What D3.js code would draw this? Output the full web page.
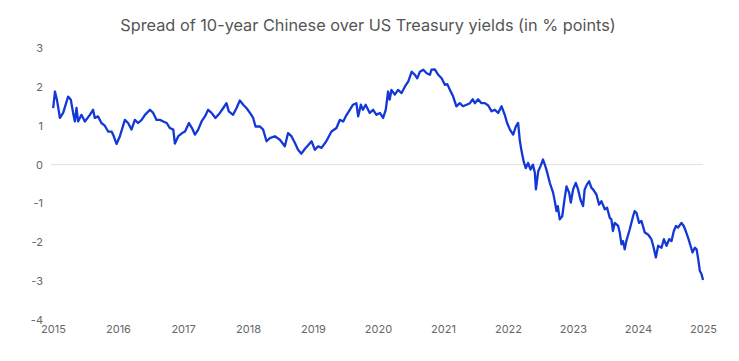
<!DOCTYPE html>
<html>
<head>
<meta charset="utf-8">
<script src="https://cdn.jsdelivr.net/npm/d3@7"></script>
<style>
  html, body { margin: 0; padding: 0; background: #fff; }
  svg { display: block; font-family: Inter, "Noto Sans", sans-serif; }
</style>
</head>
<body>
<svg id="chart" width="739" height="361"></svg>
<script>
const title = "Spread of 10-year Chinese over US Treasury yields (in % points)";
const yTicks = [-4, -3, -2, -1, 0, 1, 2, 3];
const xTickYears = [2015, 2016, 2017, 2018, 2019, 2020, 2021, 2022, 2023, 2024, 2025];

const dates = [
  "2015-01-02","2015-01-12","2015-01-23","2015-02-09","2015-02-27","2015-03-27","2015-04-11","2015-04-24","2015-05-04","2015-05-13",
  "2015-05-22","2015-06-10","2015-06-29","2015-07-27","2015-08-14","2015-08-24","2015-09-11","2015-09-30","2015-10-19","2015-11-07",
  "2015-11-26","2015-12-05","2015-12-24","2016-01-12","2016-02-09","2016-02-27","2016-03-17","2016-04-05","2016-04-23","2016-05-13",
  "2016-06-01","2016-06-29","2016-07-17","2016-08-05","2016-08-24","2016-09-12","2016-10-01","2016-10-19","2016-11-07","2016-11-16",
  "2016-12-05","2016-12-27","2017-01-12","2017-02-03","2017-02-20","2017-03-09","2017-03-27","2017-04-15","2017-05-04","2017-05-22",
  "2017-06-10","2017-07-02","2017-07-27","2017-08-14","2017-09-02","2017-09-15","2017-10-09","2017-10-28","2017-11-16","2017-12-05",
  "2017-12-24","2018-01-12","2018-01-30","2018-02-12","2018-03-09","2018-03-27","2018-04-15","2018-05-04","2018-06-01","2018-06-29",
  "2018-07-27","2018-08-14","2018-09-02","2018-09-21","2018-10-09","2018-10-28","2018-11-16","2018-12-05","2018-12-24","2019-01-12",
  "2019-01-30","2019-02-18","2019-03-17","2019-04-15","2019-05-13","2019-06-01","2019-06-20","2019-07-09","2019-07-27","2019-08-14",
  "2019-09-02","2019-09-12","2019-09-27","2019-10-09","2019-10-24","2019-11-16","2019-12-05","2019-12-24","2020-01-12","2020-01-30",
  "2020-02-14","2020-02-27","2020-03-07","2020-03-17","2020-04-05","2020-04-23","2020-05-13","2020-06-01","2020-06-20","2020-07-09",
  "2020-07-27","2020-08-09","2020-08-24","2020-09-12","2020-10-01","2020-10-19","2020-10-28","2020-11-16","2020-12-05","2020-12-24",
  "2021-01-12","2021-01-25","2021-02-09","2021-02-27","2021-03-17","2021-04-05","2021-04-23","2021-05-13","2021-06-01","2021-06-17",
  "2021-06-29","2021-07-17","2021-08-05","2021-08-24","2021-09-12","2021-10-01","2021-10-19","2021-11-07","2021-11-26","2021-12-14",
  "2021-12-27","2022-01-12","2022-01-30","2022-02-14","2022-02-27","2022-03-08","2022-03-17","2022-03-30","2022-04-11","2022-04-24",
  "2022-05-08","2022-05-21","2022-06-01","2022-06-07","2022-06-20","2022-07-03","2022-07-17","2022-07-27","2022-08-05","2022-08-24",
  "2022-09-12","2022-09-21","2022-10-01","2022-10-08","2022-10-19","2022-11-02","2022-11-16","2022-11-26","2022-12-11","2022-12-20",
  "2023-01-02","2023-01-17","2023-01-30","2023-02-12","2023-02-27","2023-03-08","2023-03-21","2023-04-02","2023-04-15","2023-04-24",
  "2023-05-13","2023-05-28","2023-06-10","2023-06-29","2023-07-12","2023-07-27","2023-08-05","2023-08-14","2023-08-24","2023-09-12",
  "2023-09-21","2023-10-01","2023-10-09","2023-10-19","2023-10-28","2023-11-16","2023-12-05","2023-12-14","2023-12-24","2024-01-08",
  "2024-01-21","2024-02-09","2024-02-27","2024-03-17","2024-03-30","2024-04-11","2024-04-24","2024-05-13","2024-05-26","2024-06-10",
  "2024-06-25","2024-07-08","2024-07-21","2024-08-02","2024-08-14","2024-09-02","2024-09-15","2024-09-26","2024-10-09","2024-10-23",
  "2024-11-03","2024-11-16","2024-11-26","2024-12-05","2024-12-14","2024-12-24","2025-01-01"
];
const spread = [
  1.45,1.88,1.67,1.20,1.33,1.75,1.67,1.33,1.11,1.46,
  1.11,1.28,1.11,1.28,1.41,1.20,1.24,1.07,1.00,0.85,
  0.85,0.77,0.53,0.73,1.15,1.07,0.90,1.15,1.07,1.15,
  1.28,1.41,1.33,1.15,1.15,1.11,1.07,0.94,0.90,0.54,
  0.73,0.81,0.85,1.07,0.94,0.77,0.90,1.11,1.24,1.41,
  1.33,1.20,1.33,1.45,1.58,1.37,1.28,1.45,1.65,1.54,
  1.45,1.33,1.20,0.98,0.98,0.90,0.60,0.68,0.73,0.64,
  0.47,0.81,0.73,0.56,0.38,0.28,0.40,0.50,0.60,0.38,
  0.47,0.43,0.60,0.85,0.94,1.15,1.11,1.28,1.41,1.54,
  1.58,1.24,1.54,1.41,1.54,1.33,1.41,1.28,1.33,1.20,
  1.41,1.88,1.67,1.92,1.80,1.92,1.84,2.01,2.14,2.39,
  2.31,2.22,2.39,2.44,2.35,2.31,2.44,2.45,2.31,2.22,
  2.05,2.07,1.92,1.75,1.50,1.58,1.50,1.54,1.58,1.68,
  1.58,1.68,1.58,1.58,1.52,1.37,1.41,1.33,1.50,1.28,
  1.07,0.90,0.77,0.98,1.07,0.64,0.38,0.08,-0.09,0.04,
  -0.13,0.00,-0.21,-0.64,-0.17,-0.04,0.13,0.00,-0.13,-0.47,
  -0.73,-0.94,-1.20,-1.07,-1.41,-1.33,-0.85,-0.56,-0.73,-0.98,
  -0.64,-0.47,-0.64,-0.90,-1.07,-0.64,-0.51,-0.43,-0.60,-0.64,
  -0.77,-1.03,-0.94,-1.15,-1.11,-1.37,-1.41,-1.71,-1.50,-1.58,
  -1.75,-2.05,-1.97,-2.18,-1.97,-1.67,-1.33,-1.20,-1.24,-1.50,
  -1.45,-1.75,-1.80,-1.92,-2.14,-2.39,-2.09,-2.14,-1.92,-2.09,
  -1.92,-1.97,-1.71,-1.58,-1.62,-1.50,-1.58,-1.71,-1.88,-2.09,
  -2.26,-2.14,-2.18,-2.43,-2.73,-2.82,-2.97
];

const parse = d3.timeParse("%Y-%m-%d");
const data = dates.map((d, i) => ({ date: parse(d), value: spread[i] }));

const svg = d3.select("#chart");
const x = d3.scaleTime()
  .domain([new Date(2015, 0, 1), new Date(2025, 0, 1)])
  .range([53, 703]);
const y = d3.scaleLinear().domain([-4, 3]).range([320, 48]);

svg.append("text")
  .attr("x", 368).attr("y", 31)
  .attr("text-anchor", "middle")
  .attr("font-size", 16.3)
  .attr("fill", "#555")
  .text(title);

// zero gridline
svg.append("line")
  .attr("x1", x.range()[0] - 2).attr("x2", x.range()[1])
  .attr("y1", y(0)).attr("y2", y(0))
  .attr("stroke", "#e0e0e0").attr("stroke-width", 1);

const yAxis = svg.append("g")
  .attr("transform", "translate(43,0)")
  .call(d3.axisLeft(y).tickValues(yTicks).tickSize(0).tickPadding(0).tickFormat(d => String(d)));
yAxis.select(".domain").remove();
yAxis.selectAll("text").attr("font-size", 11).attr("fill", "#666").attr("font-family", "Inter, 'Noto Sans', sans-serif");

const xAxis = svg.append("g")
  .attr("transform", "translate(0,323)")
  .call(d3.axisBottom(x)
    .tickValues(xTickYears.map(yr => new Date(yr, 0, 1)))
    .tickSize(0).tickPadding(2)
    .tickFormat(d3.timeFormat("%Y")));
xAxis.select(".domain").remove();
xAxis.selectAll("text").attr("font-size", 11).attr("fill", "#666").attr("font-family", "Inter, 'Noto Sans', sans-serif");

const line = d3.line()
  .x(d => x(d.date))
  .y(d => y(d.value));

svg.append("path")
  .datum(data)
  .attr("fill", "none")
  .attr("stroke", "#1238d6")
  .attr("stroke-width", 2.3)
  .attr("stroke-linejoin", "round")
  .attr("d", line);
</script>
</body>
</html>
